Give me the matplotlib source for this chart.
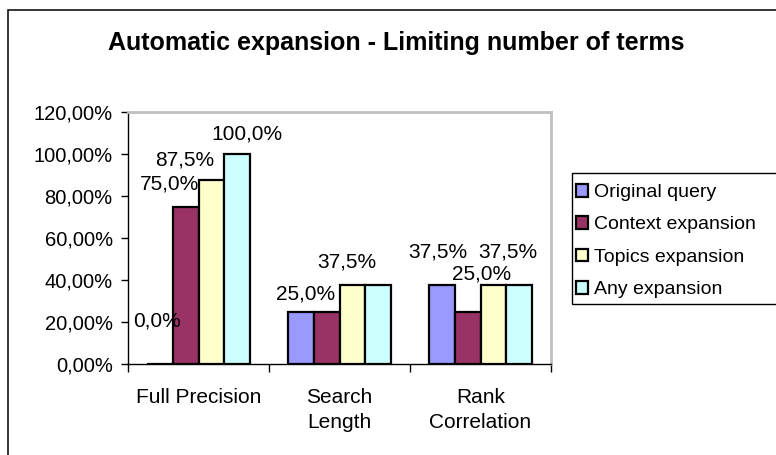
import matplotlib
matplotlib.use("Agg")
import matplotlib.pyplot as plt
from matplotlib.patches import Rectangle, Patch
import numpy as np

# ---- data -------------------------------------------------------------
categories = ["Full Precision", "Search\nLength", "Rank\nCorrelation"]
series_names = ["Original query", "Context expansion", "Topics expansion", "Any expansion"]
original_query = [0.0, 25.0, 37.5]
context_expansion = [75.0, 25.0, 25.0]
topics_expansion = [87.5, 37.5, 37.5]
any_expansion = [100.0, 37.5, 37.5]
y_ticks = [0, 20, 40, 60, 80, 100, 120]
y_tick_labels = ["0,00%", "20,00%", "40,00%", "60,00%", "80,00%", "100,00%", "120,00%"]

series_values = [original_query, context_expansion, topics_expansion, any_expansion]
colors = ["#9999FF", "#993366", "#FFFFCC", "#CCFFFF"]

# which values carry a data label, and the label offset (pixels) from the bar top
label_offsets = {
    (0, 0): (-3, 43), (1, 0): (-16, 23), (2, 0): (-27, 20), (3, 0): (10, 20),
    (0, 1): (5, 18), (2, 1): (-6, 23),
    (0, 2): (-4, 33), (1, 2): (14, 38), (3, 2): (-11, 33),
}

W, H = 776, 455
plt.rcParams["font.family"] = ["Liberation Sans", "DejaVu Sans"]
fig = plt.figure(figsize=(W / 100, H / 100), dpi=100)


def fx(px):
    return px / W


def fy(py):
    return 1 - py / H


# outer chart frame
fig.patches.append(Rectangle((fx(8), fy(470)), fx(800), 460 / H, transform=fig.transFigure,
                             fill=False, edgecolor="black", linewidth=1.1))

ax = fig.add_axes([fx(128), fy(364), fx(551) - fx(128), fy(112) - fy(364)])

n_series = len(series_values)
bar_w = 1 / 5.5
x = np.arange(len(categories))
for i, (vals, col, name) in enumerate(zip(series_values, colors, series_names)):
    xpos = x + (i - (n_series - 1) / 2) * bar_w
    bars = ax.bar(xpos, vals, width=bar_w, color=col, edgecolor="black",
                  linewidth=1.6, label=name, zorder=3)
    for j, (b, v) in enumerate(zip(bars, vals)):
        if (i, j) in label_offsets:
            dx, dy = label_offsets[(i, j)]
            ax.annotate(f"{v:.1f}%".replace(".", ","),
                        (b.get_x() + b.get_width() / 2, v),
                        xytext=(dx, dy), textcoords="offset pixels",
                        ha="center", va="center", fontsize=15,
                        annotation_clip=False, zorder=4)

ax.set_xlim(-0.5, len(categories) - 0.5)
ax.set_ylim(0, 120)
ax.set_yticks(y_ticks)
ax.set_yticklabels(y_tick_labels, fontsize=14.5)
ax.set_xticks(x)
ax.set_xticklabels(categories, fontsize=15, linespacing=1.45)
ax.tick_params(axis="x", which="major", length=0, pad=17)
ax.set_xticks(np.arange(-0.5, len(categories)), minor=True)
ax.tick_params(axis="x", which="minor", length=6, width=1, direction="out", color="black")
ax.tick_params(axis="y", length=5, width=1, direction="out", pad=6, color="black")

for s in ("left", "bottom"):
    ax.spines[s].set_color("black")
    ax.spines[s].set_linewidth(1.0)
for s in ("top", "right"):
    ax.spines[s].set_color("#C0C0C0")
    ax.spines[s].set_linewidth(2.0)

# title
fig.text(fx(396), fy(43), "Automatic expansion - Limiting number of terms",
         ha="center", va="center", fontsize=18, fontweight="bold")

# legend
handles = [Patch(facecolor=c, edgecolor="black", linewidth=1.6) for c in colors]
leg = fig.legend(handles, series_names, loc="upper left",
                 bbox_to_anchor=(fx(576), fy(184)), bbox_transform=fig.transFigure,
                 frameon=False, fontsize=14, handlelength=0.62, handleheight=0.62,
                 handletextpad=0.3, labelspacing=0.78, borderpad=0, borderaxespad=0)
fig.patches.append(Rectangle((fx(572), fy(304)), fx(260), (304 - 173) / H,
                             transform=fig.transFigure, fill=False,
                             edgecolor="black", linewidth=1.0))

fig.savefig("out.png", dpi=100)
